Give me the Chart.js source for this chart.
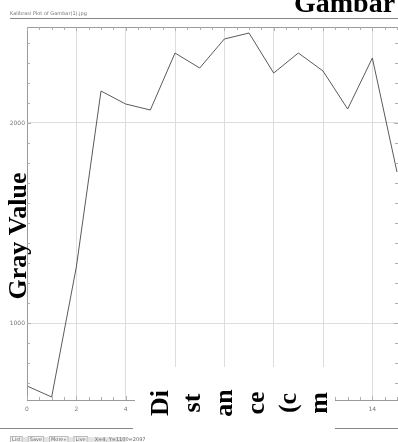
<!DOCTYPE html>
<html>
<head>
<meta charset="utf-8">
<script src="https://cdn.jsdelivr.net/npm/chart.js@4/dist/chart.umd.min.js"></script>
<style>
  html, body { margin: 0; padding: 0; background: #fff; overflow: hidden; }
  #c { display: block; }
</style>
</head>
<body>
<canvas id="c" width="398" height="442"></canvas>
<script>
// ---- data ----
const distances = [0, 1, 2, 3, 4, 5, 6, 7, 8, 9, 10, 11, 12, 13, 14, 15];
const grayValues = [685, 630, 1280, 2160, 2095, 2065, 2350, 2275, 2420, 2450, 2250, 2350, 2260, 2070, 2325, 1755];
const xTickValues = [0, 2, 4, 6, 8, 10, 12, 14];
const yTickValues = [1000, 2000];
const yAxisTitle = 'Gray Value';
const xTitleChunks = ['Di', 'st', 'an', 'ce', '(c', 'm'];
const chartTitle = 'Gambar';
const headerText = 'Kalibrasi Plot of Gambar(1).jpg';
const toolbarButtons = ['List', 'Save', 'More\u00bb', 'Live'];
const statusText = 'X=4, Y=1100=2097';

const overlay = {
  id: 'overlay',
  afterDraw(chart) {
    const ctx = chart.ctx;
    const a = chart.chartArea;
    const xs = chart.scales.x, ys = chart.scales.y;
    ctx.save();
    // frame
    ctx.strokeStyle = '#9a9a9a';
    ctx.lineWidth = 1;
    ctx.strokeRect(Math.round(a.left) + 0.5, Math.round(a.top) + 0.5, a.right - a.left, a.bottom - a.top);
    // minor ticks (inward)
    ctx.strokeStyle = '#b0b0b0';
    ctx.beginPath();
    for (let v = 0; v <= 15; v += 0.5) {
      const px = Math.round(xs.getPixelForValue(v)) + 0.5;
      const len = (v % 2 === 0) ? 4 : 3;
      ctx.moveTo(px, a.top); ctx.lineTo(px, a.top + len);
      ctx.moveTo(px, a.bottom); ctx.lineTo(px, a.bottom - len);
    }
    for (let v = 700; v <= 2400; v += 100) {
      const py = Math.round(ys.getPixelForValue(v)) + 0.5;
      const len = (v % 1000 === 0) ? 4 : 3;
      ctx.moveTo(a.left, py); ctx.lineTo(a.left + len, py);
      ctx.moveTo(a.right, py); ctx.lineTo(a.right - len, py);
    }
    ctx.stroke();

    // header line + text
    ctx.strokeStyle = '#888';
    ctx.beginPath();
    ctx.moveTo(10, 18.5); ctx.lineTo(398, 18.5);
    ctx.stroke();
    ctx.fillStyle = '#777';
    ctx.font = '5px "DejaVu Sans"';
    ctx.textAlign = 'left';
    ctx.textBaseline = 'alphabetic';
    ctx.fillText(headerText, 10, 15);

    // white box covering bottom middle
    ctx.fillStyle = '#ffffff';
    ctx.fillRect(135, 367, 200, 66);

    // bottom separator lines
    ctx.strokeStyle = '#888';
    ctx.beginPath();
    ctx.moveTo(0, 428.5); ctx.lineTo(133, 428.5);
    ctx.moveTo(335, 428.5); ctx.lineTo(398, 428.5);
    ctx.stroke();

    // toolbar
    ctx.fillStyle = '#e4e4e4';
    ctx.fillRect(10, 437, 116, 5);
    ctx.font = '5px "DejaVu Sans"';
    let bx = 12;
    toolbarButtons.forEach(b => {
      ctx.fillStyle = '#f2f2f2';
      const w = ctx.measureText(b).width + 4;
      ctx.fillRect(bx - 2, 436, w, 6);
      ctx.strokeStyle = '#bbb';
      ctx.strokeRect(bx - 1.5, 436.5, w - 1, 6);
      ctx.fillStyle = '#666';
      ctx.fillText(b, bx, 441);
      bx += w + 5;
    });
    ctx.fillText(statusText, bx, 441);

    // big title "Gambar" (cut at top)
    ctx.fillStyle = '#000';
    ctx.font = 'bold 28px "Liberation Serif"';
    ctx.textAlign = 'left';
    ctx.textBaseline = 'alphabetic';
    ctx.fillText(chartTitle, 294, 12);

    // y-axis title (rotated)
    ctx.save();
    ctx.translate(26, 236);
    ctx.rotate(-Math.PI / 2);
    ctx.textAlign = 'center';
    ctx.font = 'bold 26px "Liberation Serif"';
    ctx.fillText(yAxisTitle, 0, 0);
    ctx.restore();

    // broken x-axis title chunks (each rotated)
    const baseXs = [168, 200, 232, 264, 296, 327];
    xTitleChunks.forEach((t, i) => {
      ctx.save();
      ctx.translate(baseXs[i], 403);
      ctx.rotate(-Math.PI / 2);
      ctx.textAlign = 'center';
      ctx.font = 'bold 26px "Liberation Serif"';
      ctx.fillText(t, 0, 0);
      ctx.restore();
    });
    ctx.restore();
  }
};

new Chart(document.getElementById('c'), {
  type: 'scatter',
  data: {
    datasets: [{
      data: distances.map((d, i) => ({ x: d, y: grayValues[i] })),
      showLine: true,
      borderColor: '#5a5a5a',
      borderWidth: 1,
      pointRadius: 0,
      tension: 0,
      fill: false
    }]
  },
  options: {
    responsive: false,
    animation: false,
    devicePixelRatio: 1,
    layout: { padding: { left: 0, top: 27, right: 0, bottom: 0 } },
    plugins: { legend: { display: false }, tooltip: { enabled: false }, title: { display: false } },
    scales: {
      x: {
        type: 'linear',
        min: 0,
        max: 15.04,
        afterBuildTicks: s => { s.ticks = xTickValues.map(v => ({ value: v })); },
        afterFit: s => { s.height = 42; },
        grid: { color: '#dddddd', drawTicks: false, lineWidth: 1 },
        border: { display: false },
        ticks: { color: '#777', font: { size: 6, family: 'DejaVu Sans' }, padding: 6, maxRotation: 0,
                 callback: v => String(v) }
      },
      y: {
        type: 'linear',
        min: 615,
        max: 2480,
        afterBuildTicks: s => { s.ticks = yTickValues.map(v => ({ value: v })); },
        afterFit: s => { s.width = 27; },
        grid: { color: '#dddddd', drawTicks: false, lineWidth: 1 },
        border: { display: false },
        ticks: { color: '#777', font: { size: 6, family: 'DejaVu Sans' }, padding: 2,
                 callback: v => String(v) }
      }
    }
  },
  plugins: [overlay]
});
</script>
</body>
</html>
